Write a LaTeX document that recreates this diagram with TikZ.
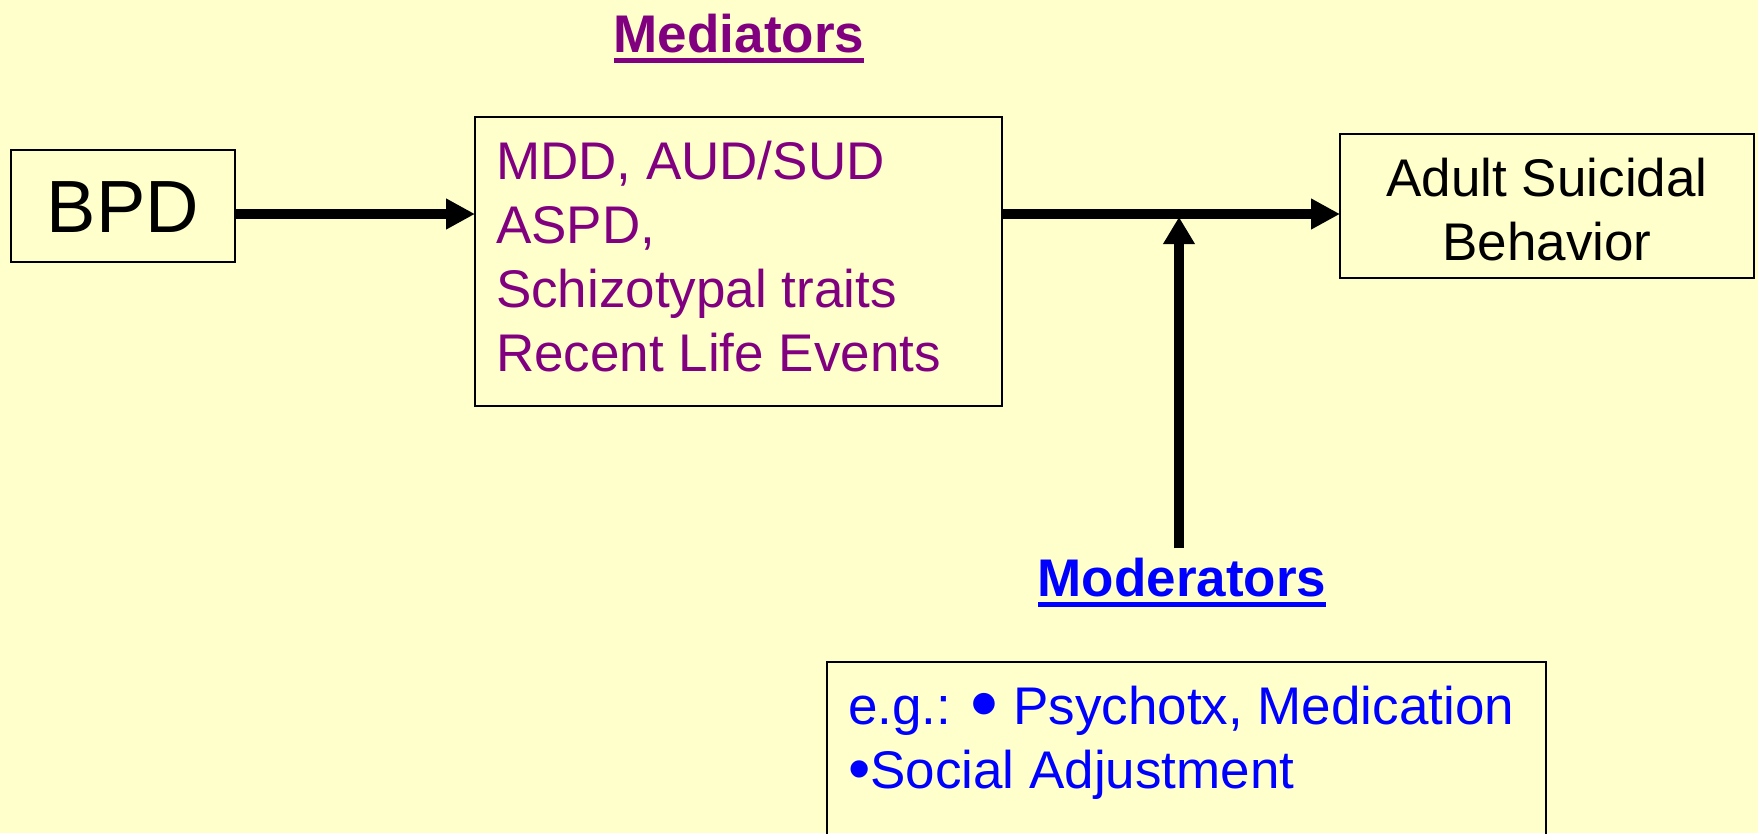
\documentclass[tikz,border=0pt]{standalone}
\usepackage{fontspec}
\setmainfont{Liberation Sans}
\usetikzlibrary{arrows.meta}
\definecolor{bg}{HTML}{FFFFCC}
\definecolor{medc}{HTML}{800080}
\definecolor{modc}{HTML}{0000FF}
\newcommand\myul[1]{\setbox0\hbox{#1}\rlap{\rule[-11pt]{\wd0}{5.5pt}}\box0}
\newcommand\bigfont{\fontsize{53}{64}\selectfont}
\newcommand\bigbullet{\raisebox{-6pt}{\scalebox{1.5}{•}}}
\newcommand\midbullet{\raisebox{-2pt}{\scalebox{1.2}{•}}}
\begin{document}
\begin{tikzpicture}[x=1pt,y=-1pt,
  box/.style={draw=black,line width=2pt,inner sep=0pt,outer sep=0pt,anchor=north west},
  arr/.style={line width=9.5pt,-{Triangle[length=29pt,width=29pt]}},
  title/.style={font=\bfseries\bigfont,anchor=base,inner xsep=0pt,inner ysep=0pt}]
\fill[bg] (0,0) rectangle (1758,833);
\useasboundingbox (0,0) rectangle (1758,833);
\clip (0,0) rectangle (1758,833);

\node[box,minimum width=224pt,minimum height=112pt,font=\fontsize{74}{80}\selectfont,text height=53pt,text depth=0pt] (bpd) at (11,150) {BPD};

\node[box,text=medc] (med) at (475,117) {\parbox[t][289pt][t]{527pt}{\bigfont\leftskip=21pt\vspace*{18pt}\strut MDD, AUD/SUD\\\strut ASPD,\\\strut Schizotypal traits\\\strut Recent Life Events}};

\node[box] (adult) at (1340,134) {\parbox[t][144pt][t]{414pt}{\bigfont\centering\vspace*{18pt}\strut Adult Suicidal\\\strut Behavior}};

\node[box,text=modc] (modbox) at (827,662) {\parbox[t][230pt][t]{719pt}{\bigfont\leftskip=21pt\vspace*{18pt}\strut e.g.: \bigbullet{} Psychotx, Medication\\\strut \midbullet Social Adjustment}};

\node[title,text=medc] (medt) at (739,52) {\myul{Mediators}};
\node[title,text=modc,inner ysep=9pt] (modt) at (1182,596) {\myul{Moderators}};

\coordinate (ay) at (0,214);
\coordinate (j) at (1179,217);
\draw[arr] (bpd.east |- ay) -- (med.west |- ay);
\draw[arr] (med.east |- ay) -- (adult.west |- ay);
\draw[line width=9.5pt,-{Triangle[length=27pt,width=30pt]}] (modt.north -| j) -- (j);
\end{tikzpicture}
\end{document}
